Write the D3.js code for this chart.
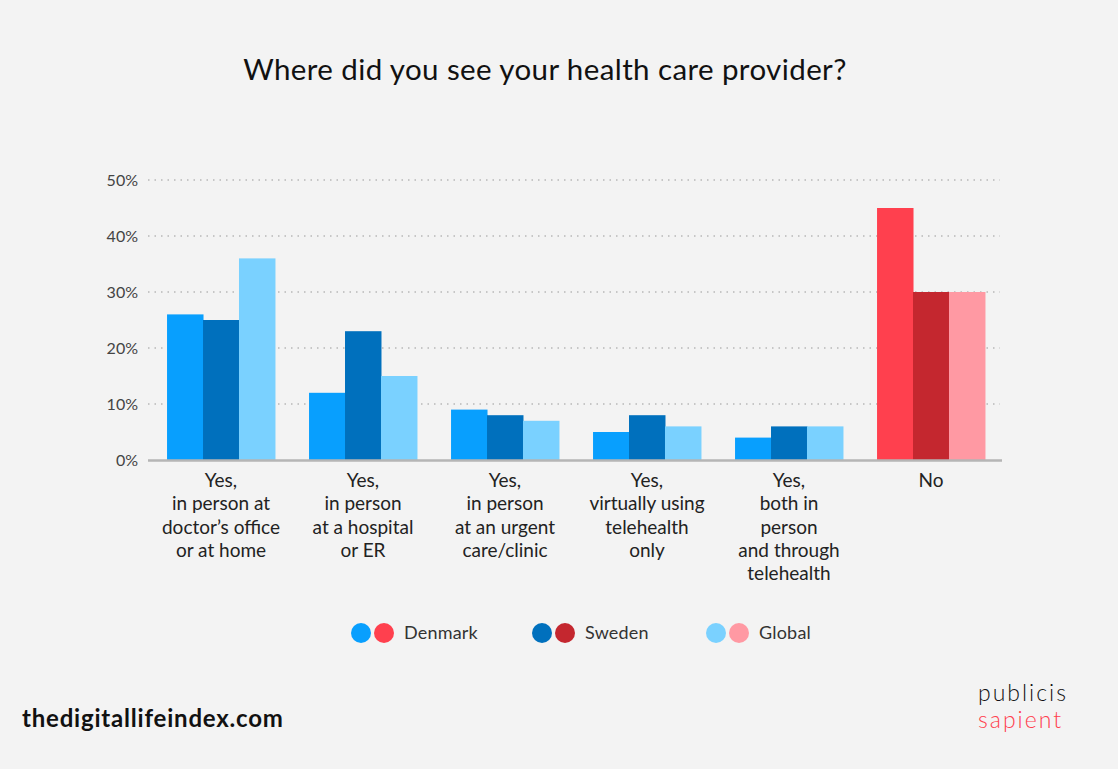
<!DOCTYPE html>
<html><head><meta charset="utf-8">
<script src="https://cdn.jsdelivr.net/npm/d3@7"></script>
<style>
html,body{margin:0;padding:0;background:#f3f3f3;}
svg{display:block;font-family:Lato,"Open Sans",sans-serif;}
</style></head><body>
<svg id="c" width="1118" height="769"></svg>
<script>
const categories = [
  ["Yes,","in person at","doctor’s office","or at home"],
  ["Yes,","in person","at a hospital","or ER"],
  ["Yes,","in person","at an urgent","care/clinic"],
  ["Yes,","virtually using","telehealth","only"],
  ["Yes,","both in","person","and through","telehealth"],
  ["No"]
];
const seriesNames = ["Denmark","Sweden","Global"];
const denmark = [26,12,9,5,4,45];
const sweden  = [25,23,8,8,6,30];
const global  = [36,15,7,6,6,30];
const yTicks = [0,10,20,30,40,50];
const blueColors = ["#089ffe","#0070bd","#7ad1ff"];
const redColors  = ["#ff404e","#c4272f","#ff99a3"];

const svg = d3.select("#c");
svg.append("rect").attr("width",1118).attr("height",769).attr("fill","#f3f3f3");

svg.append("text").attr("x",545).attr("y",80).attr("text-anchor","middle")
  .attr("font-size",29.5).attr("letter-spacing",0.4).attr("fill","#111").text("Where did you see your health care provider?");

const x = d3.scaleBand().domain(d3.range(categories.length)).range([150,1002]).paddingInner(0.24).paddingOuter(0.12);
const xs = d3.scaleBand().domain(seriesNames).range([0,x.bandwidth()]);
const y = d3.scaleLinear().domain([0,50]).range([460,180]);

// gridlines
svg.append("g").selectAll("line").data(yTicks.filter(d=>d>0)).join("line")
  .attr("x1",148).attr("x2",1000).attr("y1",d=>y(d)).attr("y2",d=>y(d))
  .attr("stroke","#b8b8b8").attr("stroke-width",1.3).attr("stroke-dasharray","1.5,5");

// y labels
svg.append("g").selectAll("text").data(yTicks).join("text")
  .attr("x",138).attr("y",d=>y(d)+5.5).attr("text-anchor","end")
  .attr("font-size",16).attr("fill","#444").text(d=>d+"%");

const data = [denmark,sweden,global];
const g = svg.append("g");
categories.forEach((c,i)=>{
  const pal = i===categories.length-1 ? redColors : blueColors;
  seriesNames.forEach((s,j)=>{
    g.append("rect").attr("x",x(i)+xs(s)).attr("width",xs.bandwidth()+0.5)
      .attr("y",y(data[j][i])).attr("height",y(0)-y(data[j][i])).attr("fill",pal[j]);
  });
});

// axis baseline
svg.append("line").attr("x1",148).attr("x2",1002).attr("y1",460.5).attr("y2",460.5)
  .attr("stroke","#b5b5b5").attr("stroke-width",2.5);

// category labels
categories.forEach((c,i)=>{
  const t = svg.append("text").attr("text-anchor","middle").attr("font-size",19).attr("fill","#222");
  c.forEach((line,k)=>{
    t.append("tspan").attr("x",x(i)+x.bandwidth()/2).attr("y",487+k*23.3).text(line);
  });
});

// legend
const legX = [361,542,716];
seriesNames.forEach((s,j)=>{
  svg.append("circle").attr("cx",legX[j]).attr("cy",633).attr("r",10).attr("fill",blueColors[j]);
  svg.append("circle").attr("cx",legX[j]+23).attr("cy",633).attr("r",10).attr("fill",redColors[j]);
  svg.append("text").attr("x",legX[j]+43).attr("y",639).attr("font-size",18).attr("letter-spacing",0.2).attr("fill","#333").text(s);
});

svg.append("text").attr("x",22).attr("y",727).attr("font-size",24).attr("font-weight","bold").attr("letter-spacing",0.8)
  .attr("fill","#111").text("thedigitallifeindex.com");
svg.append("text").attr("x",978).attr("y",701).attr("font-size",23).attr("font-weight",300).attr("letter-spacing",2)
  .attr("fill","#111").text("publicis");
svg.append("text").attr("x",978).attr("y",728).attr("font-size",23).attr("font-weight",300).attr("letter-spacing",2)
  .attr("fill","#ff404e").text("sapient");
</script>
</body></html>
